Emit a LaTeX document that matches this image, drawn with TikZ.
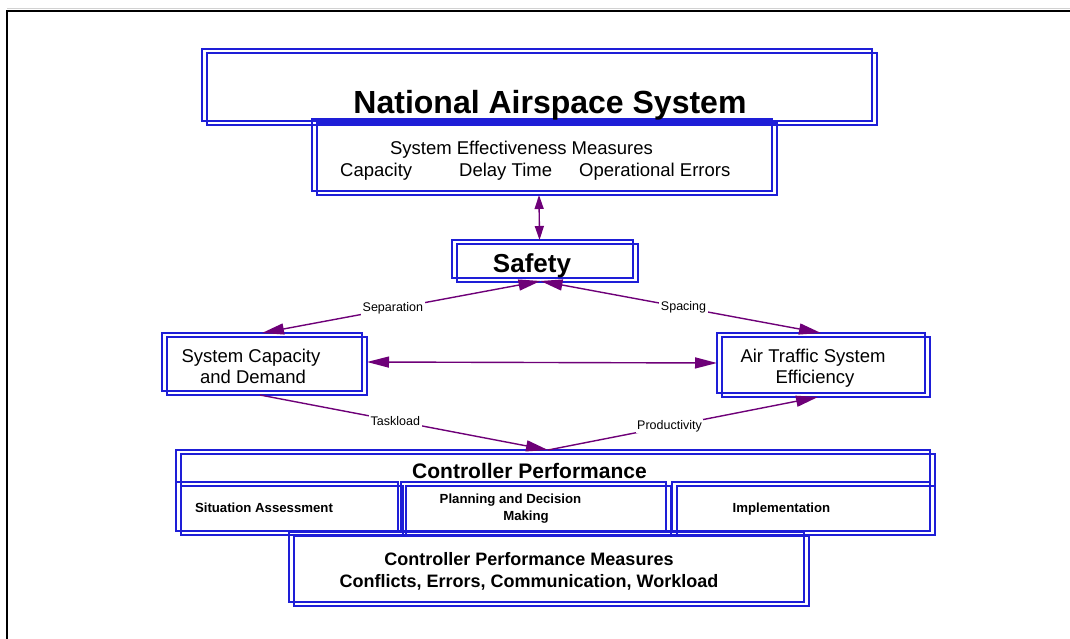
\documentclass[tikz,border=0pt]{standalone}
\usepackage{fontspec}
\setmainfont{Liberation Sans}
\usetikzlibrary{arrows.meta,calc}
\definecolor{bxblue}{RGB}{30,30,215}
\definecolor{arpurple}{RGB}{110,0,120}
\newcommand\dblbox[5]{%
  \node[bx, minimum width={#4pt-#2pt}, minimum height={#5pt-#3pt}] (#1) at (#2,#3) {};
  \draw[bxline] ($(#1.north west)+(5,4)$) rectangle ($(#1.south east)+(5,4)$);
}
\newcommand\fs[1]{\fontsize{#1}{#1}\selectfont}
\tikzset{
  bx/.style={draw=bxblue, line width=1.3pt, inner sep=0pt, outer sep=0pt, anchor=north west},
  bxline/.style={draw=bxblue, line width=1.3pt},
  conn/.style={draw=arpurple, line width=1.4pt},
  twoway/.style={conn, {Triangle[length=22pt,width=11pt]}-{Triangle[length=22pt,width=11pt]}},
  oneway/.style={conn, -{Triangle[length=22pt,width=11pt]}},
  lbl/.style={fill=white, inner sep=1.5pt, font=\fs{12.5}},
  txt/.style={anchor=base, inner sep=0pt},
  txtw/.style={anchor=base west, inner sep=0pt},
}
\begin{document}
\begin{tikzpicture}[x=1pt,y=-1pt]
\useasboundingbox (0,0) rectangle (1070,639);
% outer frame
\draw[gray!35, line width=1pt] (7,8.3) -- (1070,8.3);
\draw[line width=2.3pt] (1071,10.7) -- (6.8,10.7) -- (6.8,640);

% boxes
\dblbox{nas}{202}{49}{872}{121}
\dblbox{sem}{312}{119}{772}{191}
\dblbox{safety}{452}{240}{633}{278}
\dblbox{sc}{162}{333}{362}{391}
\dblbox{ate}{717}{333}{925}{393}
\dblbox{cp}{176}{450}{930}{531}
\dblbox{sa}{176}{482}{398}{531}
\dblbox{pdm}{401}{482}{666}{531}
\dblbox{impl}{672}{482}{930}{531}
\dblbox{cpm}{289}{532}{804}{602}

% texts
\node[txt, font=\bfseries\fs{32}] (tnas) at (550,114) {National Airspace System};
\node[txt, font=\fs{18.5}] (tsem) at (521.5,155) {System Effectiveness Measures};
\node[txtw, font=\fs{18.5}] (tcap) at (340,177) {Capacity};
\node[txtw, font=\fs{18.5}] (tdel) at (459,177) {Delay Time};
\node[txtw, font=\fs{18.5}] (tope) at (579,177) {Operational Errors};
\node[txt, font=\bfseries\fs{26}] (tsaf) at (532,272) {Safety};
\node[txt, font=\fs{18.5}] (tsc1) at (251,362) {System Capacity};
\node[txt, font=\fs{18.5}] (tsc2) at (253,383) {and Demand};
\node[txt, font=\fs{18.5}] (tate1) at (813,362) {Air Traffic System};
\node[txt, font=\fs{18.5}] (tate2) at (815,383) {Efficiency};
\node[txt, font=\bfseries\fs{21}] (tcp) at (529.5,478) {Controller Performance};
\node[txt, font=\bfseries\fs{13.2}] (tsa) at (264,512) {Situation Assessment};
\node[txt, font=\bfseries\fs{13.2}] (tpdm1) at (510.5,503) {Planning and Decision};
\node[txt, font=\bfseries\fs{13.2}] (tpdm2) at (526,520) {Making};
\node[txt, font=\bfseries\fs{13.2}] (timpl) at (781.5,512) {Implementation};
\node[txt, font=\bfseries\fs{18}] (tcpm1) at (529,565) {Controller Performance Measures};
\node[txt, font=\bfseries\fs{18}] (tcpm2) at (529,587) {Conflicts, Errors, Communication, Workload};

% connectors
\draw[conn, {Triangle[length=14pt,width=9pt]}-{Triangle[length=14pt,width=9pt]}]
  ([yshift=-4pt,xshift=-3pt]sem.south) -- ([xshift=-3pt]safety.north);
\draw[twoway] ([yshift=-3pt,xshift=-2pt]safety.south) -- node[lbl, pos=0.53] (lsep) {Separation} (sc.north);
\draw[twoway] ([yshift=-3pt,xshift=-2pt]safety.south) -- node[lbl, pos=0.51] (lspa) {Spacing} (ate.north);
\draw[twoway] ([xshift=5pt]sc.east) -- (ate.west);
\draw[oneway] ([yshift=-4pt,xshift=-2pt]sc.south) -- node[lbl, pos=0.47] (ltask) {Taskload} ([xshift=-5pt]cp.north);
\draw[oneway] ([xshift=-5pt]cp.north) -- node[lbl, pos=0.45] (lprod) {Productivity} ([yshift=-4pt,xshift=-3pt]ate.south);
\end{tikzpicture}
\end{document}
